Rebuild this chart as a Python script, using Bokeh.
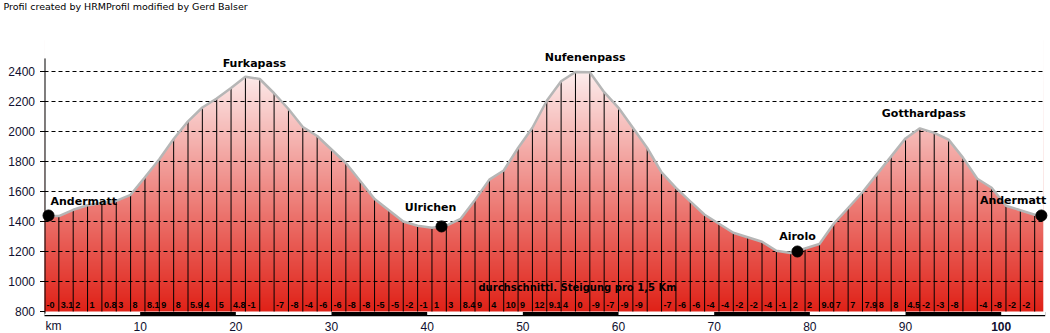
import numpy as np
from bokeh.plotting import figure
from bokeh.models import Range1d
from bokeh.core.properties import value
from bokeh.embed import file_html
from bokeh.resources import INLINE

# ---------------- data ----------------
title_text = "Profil created by HRMProfil modified by Gerd Balser"
caption_text = "durchschnittl. Steigung pro 1,5 Km"

km = [0, 1.5, 3, 4.5, 6, 7.5, 9, 10.5, 12, 13.5, 15, 16.5, 18, 19.5, 21, 22.5,
      24, 25.5, 27, 28.5, 30, 31.5, 33, 34.5, 36, 37.5, 39, 40.5, 42, 43.5, 45,
      46.5, 48, 49.5, 51, 52.5, 54, 55.5, 57, 58.5, 60, 61.5, 63, 64.5, 66, 67.5,
      69, 70.5, 72, 73.5, 75, 76.5, 78, 79.5, 81, 82.5, 84, 85.5, 87, 88.5, 90,
      91.5, 93, 94.5, 96, 97.5, 99, 100.5, 102, 103.5, 104.4]

elev = [1436, 1436, 1478, 1508, 1524, 1537, 1578, 1695, 1815, 1950, 2068, 2160,
        2220, 2290, 2365, 2350, 2255, 2150, 2030, 1970, 1880, 1790, 1670, 1550,
        1475, 1400, 1372, 1358, 1372, 1418, 1544, 1679, 1740, 1890, 2025, 2205,
        2335, 2397, 2395, 2262, 2158, 2025, 1890, 1728, 1624, 1534, 1445, 1385,
        1325, 1295, 1265, 1205, 1190, 1220, 1250, 1385, 1490, 1595, 1714, 1834,
        1954, 2021, 1991, 1946, 1826, 1685, 1625, 1505, 1475, 1445, 1436]

grades = ["-0", "3.1", "2", "1", "0.8", "3", "8", "8.1", "9", "8", "5.9", "4",
          "5", "4.8", "-1", "", "-7", "-8", "-4", "-6", "-6", "-8", "-8", "-5",
          "-5", "-2", "-1", "1", "3", "8.4", "9", "4", "10", "9", "12", "9.1",
          "4", "0", "-9", "-7", "-9", "-9", "", "-7", "-6", "-6", "-4", "-4",
          "-2", "-2", "-4", "-1", "2", "2", "9.0", "7", "7", "7.9", "8", "8",
          "4.5", "-2", "-3", "-8", "", "-4", "-8", "-2", "-2", ""]

place_names = ["Andermatt", "Ulrichen", "Airolo", "Andermatt"]
place_km = [0.42, 41.5, 78.7, 104.2]
place_elev = [1440, 1367, 1200, 1440]

pass_names = ["Furkapass", "Nufenenpass", "Gotthardpass"]
pass_km = [21.2, 56.2, 91.6]
pass_elev = [2373, 2413, 2033]

y_ticks = [800, 1000, 1200, 1400, 1600, 1800, 2000, 2200, 2400]
y_tick_labels = ["800", "1000", "1200", "1400", "1600", "1800", "2000", "2200", "2400"]
grid_levels = [1000, 1200, 1400, 1600, 1800, 2000, 2200, 2400]
x_ticks = [0, 10, 20, 30, 40, 50, 60, 70, 80, 90, 100]
x_tick_labels = ["km", "10", "20", "30", "40", "50", "60", "70", "80", "90", "100"]

# ---------------- layout (pixel geometry of the frame) ----------------
W, H = 1050, 333
ORIGIN_PX = 44.0        # x pixel of km 0
PX_PER_KM = 9.567
BASE_PY = 311.0         # y pixel of 800 m
PX_PER_M = 0.15
BASE = 800
X_END = 104.6           # right end of chart area (km)
AXIS_TOP = 2487
AXIS_BOTTOM = 786


def km_at(px):
    return (px - ORIGIN_PX) / PX_PER_KM


def el_at(py):
    return BASE + (BASE_PY - py) / PX_PER_M


p = figure(width=W, height=H, x_range=Range1d(km_at(0), km_at(W)),
           y_range=Range1d(el_at(H), el_at(0)), output_backend="svg",
           toolbar_location=None, x_axis_location=None, y_axis_location=None,
           title=None, min_border=0)
p.outline_line_color = None
p.background_fill_color = "white"
p.border_fill_color = "white"
p.grid.visible = False

# gradient fill (image) masked above the profile
TOP_FILL = el_at(40)
n = 300
ys = np.linspace(BASE, TOP_FILL, n)
t = np.clip((ys - BASE) / (2450 - BASE), 0, 1)
bottom_c = np.array([224, 34, 24], dtype=float)
top_c = np.array([254, 244, 244], dtype=float)
rgb = bottom_c[None, :] + (top_c - bottom_c)[None, :] * t[:, None]
img = np.empty((n, 1), dtype=np.uint32)
view = img.view(dtype=np.uint8).reshape((n, 1, 4))
view[:, 0, 0] = rgb[:, 0].astype(np.uint8)
view[:, 0, 1] = rgb[:, 1].astype(np.uint8)
view[:, 0, 2] = rgb[:, 2].astype(np.uint8)
view[:, 0, 3] = 255
p.image_rgba(image=[img], x=0, y=BASE, dw=km[-1], dh=TOP_FILL - BASE)
p.varea(x=km, y1=elev, y2=TOP_FILL + 10, fill_color="white", fill_alpha=1.0)

# km bar below the profile
white_left = [x for i, x in enumerate(x_ticks) if i % 2 == 0]
white_right = [min(x + 10, X_END) for x in white_left]
p.quad(left=0, right=X_END, bottom=el_at(315.7), top=el_at(311.4),
       fill_color="black", line_color=None)
p.quad(left=white_left, right=white_right, bottom=el_at(314.6), top=el_at(311.4),
       fill_color="white", line_color=None)

# dashed grid
p.segment(x0=0, y0=grid_levels, x1=X_END, y1=grid_levels, line_color="black",
          line_width=1, line_dash="4 3")

# vertical separators every 1.5 km
inner = list(range(1, len(km) - 1))
p.segment(x0=[km[i] for i in inner], y0=BASE, x1=[km[i] for i in inner],
          y1=[elev[i] for i in inner], line_color="black", line_width=1)

# profile outline
p.line(km, elev, line_color="#b6b6b6", line_width=2.5)

# y axis (drawn by hand so the frame can hold the top title)
axis_x = km_at(ORIGIN_PX + 0.5)
p.segment(x0=axis_x, y0=AXIS_BOTTOM, x1=axis_x, y1=AXIS_TOP, line_color="black", line_width=1)
p.segment(x0=km_at(39.5), y0=y_ticks, x1=axis_x, y1=y_ticks, line_color="black", line_width=1)
p.text(x=km_at(34.5), y=y_ticks, text=y_tick_labels, text_font=value("Liberation Sans"),
       text_font_size="12px", text_align="right", text_baseline="middle",
       text_color="#101030")

# place markers
p.scatter(place_km, place_elev, size=11, color="black")

lab_font = value("DejaVu Sans")
place_style = [("left", 2, -14.5), ("center", -11, -19), ("center", 0, -15.5), ("right", 5, -15.5)]
for name, xk, ye, (al, dx, dy) in zip(place_names, place_km, place_elev, place_style):
    p.text(x=[xk], y=[ye], text=[name], text_font=lab_font, text_font_style="bold",
           text_font_size="11px", text_align=al, text_baseline="middle",
           x_offset=dx, y_offset=dy, text_color="black")
pass_style = [(7, -12.5), (3, -12.5), (3, -13)]
for name, xk, ye, (dx, dy) in zip(pass_names, pass_km, pass_elev, pass_style):
    p.text(x=[xk], y=[ye], text=[name], text_font=lab_font, text_font_style="bold",
           text_font_size="11px", text_align="center", text_baseline="middle",
           x_offset=dx, y_offset=dy, text_color="black")

# gradient numbers in each 1.5 km cell
p.text(x=km[:len(grades)], y=el_at(304), text=grades, text_font=value("Liberation Sans"),
       text_font_style="bold", text_font_size="9px", text_align="left",
       text_baseline="middle", x_offset=2, text_color="black")
p.text(x=[km_at(577)], y=[el_at(287)], text=[caption_text], text_font=lab_font,
       text_font_style="bold", text_font_size="10px", text_align="center",
       text_baseline="middle", text_color="black")

# x labels
xl_y = el_at(325.5)
p.text(x=[x_ticks[0]], y=xl_y, text=[x_tick_labels[0]], text_font=value("Liberation Sans"),
       text_font_size="12px", text_align="center", text_baseline="middle",
       x_offset=9, text_color="#101030")
p.text(x=x_ticks[1:-1], y=xl_y, text=x_tick_labels[1:-1], text_font=value("Liberation Sans"),
       text_font_size="12px", text_align="center", text_baseline="middle",
       text_color="#101030")
p.text(x=[x_ticks[-1]], y=xl_y, text=[x_tick_labels[-1]], text_font=value("Liberation Sans"),
       text_font_size="12px", text_font_style="bold", text_align="center",
       text_baseline="middle", text_color="#101030")

# small credit line at the very top
p.text(x=[km_at(3)], y=[el_at(6)], text=[title_text], text_font=value("DejaVu Sans"),
       text_font_size="9.5px", text_align="left", text_baseline="middle",
       text_color="black")

open("out.html", "w").write(file_html(p, INLINE))
